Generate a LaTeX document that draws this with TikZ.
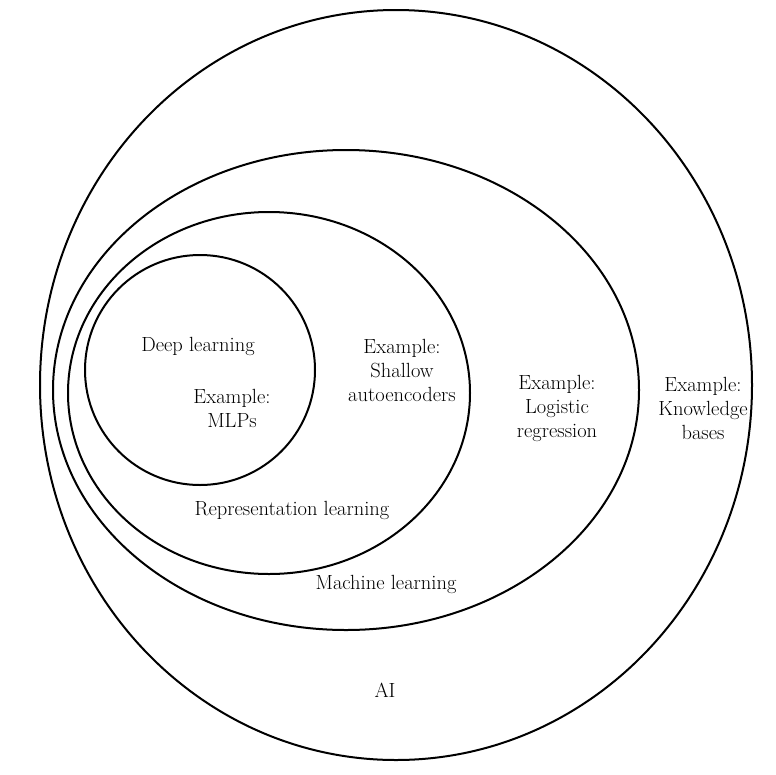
\documentclass[tikz,border=0pt]{standalone}
\begin{document}
\begin{tikzpicture}[x=1pt,y=-1pt,
  ring/.style={line width=2pt},
  lbl/.style={align=center,font=\fontsize{20.5}{24}\selectfont}]
\useasboundingbox (0,0) rectangle (776,774);
\draw[ring] (396,385) ellipse [x radius=356,y radius=375];
\draw[ring] (346,390) ellipse [x radius=293,y radius=240];
\draw[ring] (269,393) ellipse [x radius=201,y radius=181];
\draw[ring] (200,370) circle [radius=115];
\node[lbl] (dl) at (198,346) {Deep learning};
\node[lbl] (mlp) at (232,408) {Example:\\MLPs};
\node[lbl] (sa) at (402,370) {Example:\\Shallow\\autoencoders};
\node[lbl] (rl) at (292,510) {Representation learning};
\node[lbl] (lr) at (557,408) {Example:\\Logistic\\regression};
\node[lbl] (kb) at (703,408) {Example:\\Knowledge\\bases};
\node[lbl] (ml) at (386,584) {Machine learning};
\node[lbl] (ai) at (385,690) {AI};
\end{tikzpicture}
\end{document}
